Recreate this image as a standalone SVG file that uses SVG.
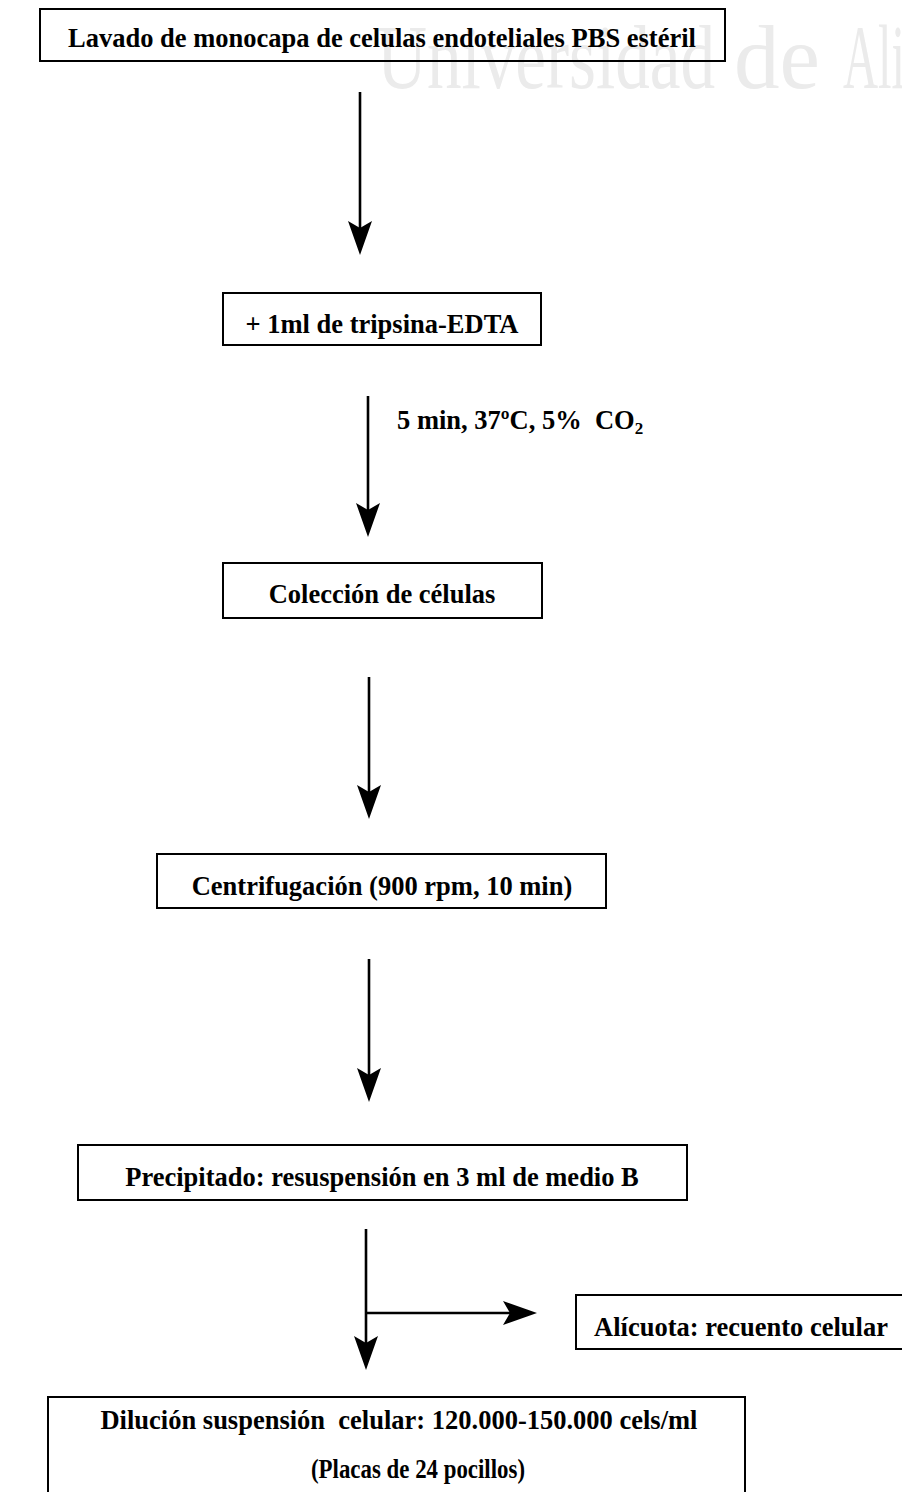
<svg xmlns="http://www.w3.org/2000/svg" width="902" height="1492" viewBox="0 0 902 1492">
<style>
.box{fill:none;stroke:#000;stroke-width:2}
.t{font-family:"Liberation Serif","Times New Roman",serif;font-weight:bold;font-size:26.5px;fill:#000;text-anchor:middle}
.lab{font-family:"Liberation Serif","Times New Roman",serif;font-weight:bold;font-size:26.5px;fill:#000;white-space:pre}
.wm{font-family:"Liberation Serif","Times New Roman",serif;font-size:92px;fill:#ebebeb}
.conn line{stroke:#000;stroke-width:2.6;fill:none}
</style>
<defs>
<marker id="ah" viewBox="0 0 34 24" refX="7" refY="12" markerWidth="34" markerHeight="24" markerUnits="userSpaceOnUse" orient="auto">
<path d="M0,0 L34,12 L0,24 L7,12 Z" fill="#000"/>
</marker>
</defs>
<rect width="902" height="1492" fill="#fff"/>
<g id="watermark">
<text class="wm" x="377" y="88" textLength="338" lengthAdjust="spacingAndGlyphs">Universidad</text>
<text class="wm" x="734" y="88" textLength="86" lengthAdjust="spacingAndGlyphs">de</text>
<text class="wm" x="843" y="88" textLength="62" lengthAdjust="spacingAndGlyphs">Ali</text>
</g>
<g id="n1">
<rect class="box" x="40" y="9" width="685" height="52"/>
<text class="t" x="382" y="47">Lavado de monocapa de celulas endoteliales PBS estéril</text>
</g>
<g id="n2">
<rect class="box" x="223" y="293" width="318" height="52"/>
<text class="t" x="382" y="333">+ 1ml de tripsina-EDTA</text>
</g>
<g id="n3">
<rect class="box" x="223" y="563" width="319" height="55"/>
<text class="t" x="382" y="603">Colección de células</text>
</g>
<g id="n4">
<rect class="box" x="157" y="854" width="449" height="54"/>
<text class="t" x="382" y="895">Centrifugación (900 rpm, 10 min)</text>
</g>
<g id="n5">
<rect class="box" x="78" y="1145" width="609" height="55"/>
<text class="t" x="382" y="1186">Precipitado: resuspensión en 3 ml de medio B</text>
</g>
<g id="n6">
<rect class="box" x="576" y="1295" width="340" height="54"/>
<text class="t" x="741" y="1336">Alícuota: recuento celular</text>
</g>
<g id="n7">
<rect class="box" x="48" y="1397" width="697" height="110"/>
<text class="t" x="399" y="1429" style="white-space:pre">Dilución suspensión  celular: 120.000-150.000 cels/ml</text>
<text class="t" x="418" y="1478" textLength="214" lengthAdjust="spacingAndGlyphs">(Placas de 24 pocillos)</text>
</g>
<g id="connectors" class="conn">
<line x1="360" y1="92" x2="360" y2="228" marker-end="url(#ah)"/>
<line x1="368" y1="396" x2="368" y2="510" marker-end="url(#ah)"/>
<text class="lab" x="397" y="429">5 min, 37ºC, 5%  CO<tspan font-size="17" dy="5">2</tspan></text>
<line x1="369" y1="677" x2="369" y2="792" marker-end="url(#ah)"/>
<line x1="369" y1="959" x2="369" y2="1075" marker-end="url(#ah)"/>
<line x1="366" y1="1229" x2="366" y2="1343" marker-end="url(#ah)"/>
<line x1="366" y1="1313" x2="510" y2="1313" marker-end="url(#ah)"/>
</g>
</svg>
